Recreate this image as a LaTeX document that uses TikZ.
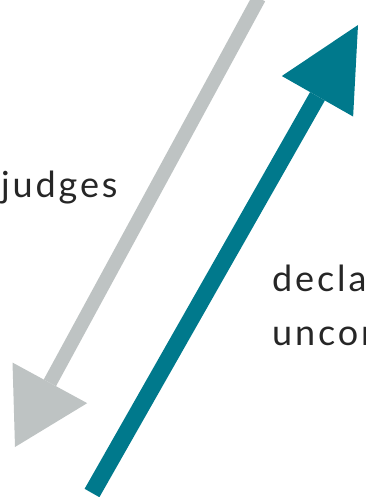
\documentclass[tikz,border=0pt]{standalone}
\usepackage{fontspec}
\setmainfont{Lato}[LetterSpace=8]
\usepackage{xcolor}
\usetikzlibrary{arrows.meta}
\definecolor{slategray}{RGB}{190,195,195}
\definecolor{deepteal}{RGB}{0,121,140}

\begin{document}
\begin{tikzpicture}[x=1pt,y=-1pt,
  shaft/.style={line width=#1,line cap=butt},
  label/.style={anchor=base west,inner sep=0pt,font=\fontsize{36}{42}\selectfont,text=black!85}]
\useasboundingbox (0,0) rectangle (365,497);
\clip (0,0) rectangle (365,497);

% Gray arrow, pointing down
\coordinate (grayTop) at (259,-2);
\coordinate (grayTip) at (15,447);
\draw[shaft=14pt,slategray,-{Triangle[length=73pt,width=85pt,line width=0pt]}] (grayTop) -- (grayTip);

% Teal arrow, pointing up
\coordinate (tealBot) at (92,493);
\coordinate (tealTip) at (358,25);
\draw[shaft=17pt,deepteal,-{Triangle[length=82pt,width=82pt,line width=0pt]}] (tealBot) -- (tealTip);

% Labels
\node[label] (judges) at (1,197) {judges};
\node[label] (decla) at (272,291) {decla};
\node[label] (uncon) at (272,345) {uncon};
\end{tikzpicture}
\end{document}
